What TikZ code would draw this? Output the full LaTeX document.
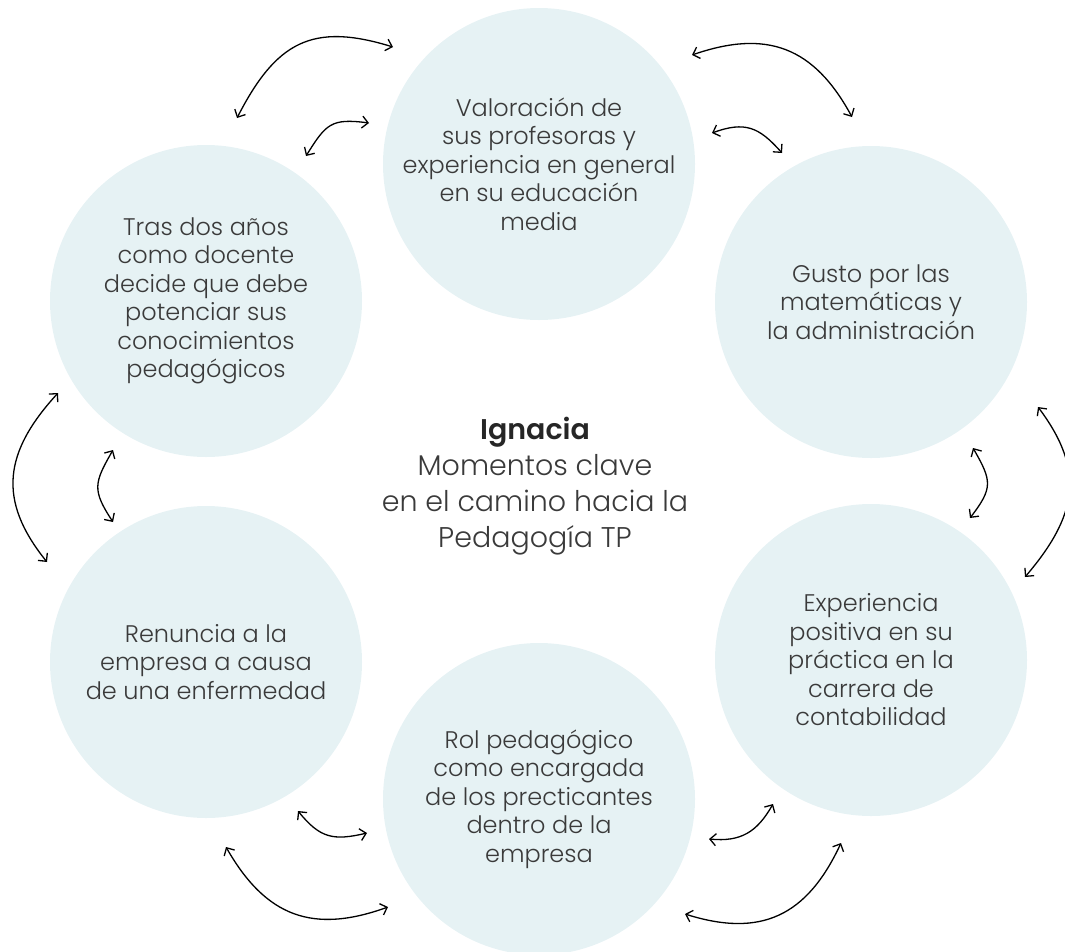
\documentclass[tikz,border=0pt]{standalone}
\usepackage{fontspec}
\IfFontExistsTF{Poppins Light}{\setmainfont{Poppins}[UprightFont={* Light},BoldFont={* SemiBold}]}{\setmainfont{Poppins}}
\usetikzlibrary{arrows.meta}
\definecolor{bubblefill}{RGB}{230,242,244}
\definecolor{textgray}{RGB}{58,58,58}
\begin{document}
\begin{tikzpicture}[x=1pt,y=-1pt,
  bubble/.style={circle, fill=bubblefill, minimum size=312pt, inner sep=0pt,
    align=center, text=textgray, font=\fontsize{24}{28.5}\selectfont},
  link/.style={line width=1.3pt, draw=black,
    {Straight Barb[length=6pt,width=12pt]}-{Straight Barb[length=6pt,width=12pt]}},
]
\useasboundingbox (0,0) rectangle (1065,951);

\node[bubble] (top) at (539,164) {Valoración de\\sus profesoras y\\experiencia en general\\en su educación\\media};
\node[bubble] (tr) at (871,302) {Gusto por las\\matemáticas y\\la administración};
\node[bubble] (br) at (871,660) {Experiencia\\positiva en su\\práctica en la\\carrera de\\contabilidad};
\node[bubble] (bot) at (539,799) {Rol pedagógico\\como encargada\\de los precticantes\\dentro de la\\empresa};
\node[bubble] (bl) at (206,662) {Renuncia a la\\empresa a causa\\de una enfermedad};
\node[bubble] (tl) at (206,301) {Tras dos años\\como docente\\decide que debe\\potenciar sus\\conocimientos\\pedagógicos};

\node[align=center, text=textgray, font=\fontsize{28.5}{36}\selectfont] (center) at (535,486)
  {{\bfseries\color{black!85}Ignacia}\\Momentos clave\\en el camino hacia la\\Pedagogía TP};

% arrow end points
\coordinate (a1s) at (237,118); \coordinate (a1e) at (393,47);
\coordinate (a2s) at (306,156); \coordinate (a2e) at (369,123);
\coordinate (a3s) at (692,55);  \coordinate (a3e) at (852,117);
\coordinate (a4s) at (712,133); \coordinate (a4e) at (782,153);
\coordinate (a5s) at (58,393);  \coordinate (a5e) at (47,562);
\coordinate (a6s) at (113,450); \coordinate (a6e) at (113,522);
\coordinate (a7s) at (1038,407); \coordinate (a7e) at (1025,577);
\coordinate (a8s) at (973,448); \coordinate (a8e) at (970,518);
\coordinate (a9s) at (298,811); \coordinate (a9e) at (367,833);
\coordinate (a10s) at (226,847); \coordinate (a10e) at (388,907);
\coordinate (a11s) at (709,839); \coordinate (a11e) at (773,804);
\coordinate (a12s) at (685,914); \coordinate (a12e) at (841,843);

\draw[link] (a1s) .. controls (276,42) and (312,22) .. (a1e);
\draw[link] (a2s) .. controls (326,124) and (331,118) .. (a2e);
\draw[link] (a3s) .. controls (767,29) and (814,47) .. (a3e);
\draw[link] (a4s) .. controls (745,121) and (759,127) .. (a4e);
\draw[link] (a5s) .. controls (4,452) and (-3,500) .. (a5e);
\draw[link] (a6s) .. controls (94,483) and (92,490) .. (a6e);
\draw[link] (a7s) .. controls (1086,471) and (1077,516) .. (a7e);
\draw[link] (a8s) .. controls (992,481) and (993,488) .. (a8e);
\draw[link] (a9s) .. controls (320,838) and (333,841) .. (a9e);
\draw[link] (a10s) .. controls (266,917) and (313,934) .. (a10e);
\draw[link] (a11s) .. controls (741,842) and (757,832) .. (a11e);
\draw[link] (a12s) .. controls (761,938) and (807,916) .. (a12e);
\end{tikzpicture}
\end{document}
